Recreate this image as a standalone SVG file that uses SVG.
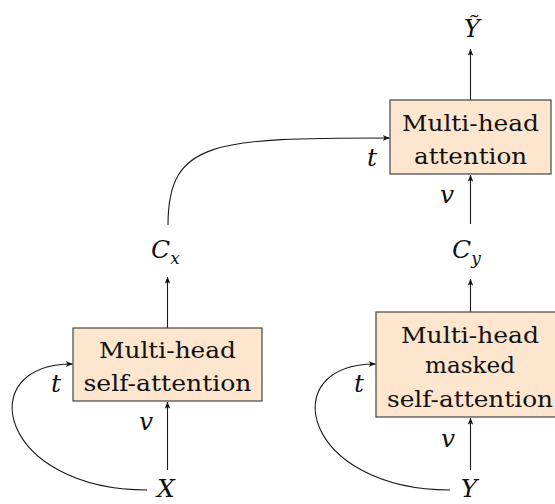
<svg xmlns="http://www.w3.org/2000/svg" width="555" height="504" viewBox="0 0 555 504">
<defs>
<marker id="arr" viewBox="0 0 10 8" refX="9.5" refY="4" markerWidth="7" markerHeight="5.6" markerUnits="userSpaceOnUse" orient="auto">
<path d="M0,0 L10,4 L0,8 L2.5,4 Z" fill="#111"/>
</marker>
<style>
.box{fill:#FDE5CE;stroke:#444;stroke-width:1.2}
.lbl{font-family:"DejaVu Serif","Liberation Serif",serif;font-size:22.5px;fill:#111;text-anchor:middle}
.math{font-family:"DejaVu Serif","Liberation Serif",serif;font-style:italic;font-size:25px;fill:#111}
.sub{font-size:17px}
.edge{fill:none;stroke:#1a1a1a;stroke-width:1.1;marker-end:url(#arr)}
</style>
</defs>
<rect width="555" height="504" fill="#fff"/>
<g id="connectors">
<path class="edge" d="M167.5,470 L167.5,402"/>
<path class="edge" d="M147,490 C0,490 -30,364 72.5,364"/>
<path class="edge" d="M167.5,328 L167.5,277"/>
<path class="edge" d="M168,225 C168,140 215,138 389.5,138"/>
<path class="edge" d="M470.5,470 L470.5,418"/>
<path class="edge" d="M450,490 C303,490 273,364 375.5,364"/>
<path class="edge" d="M470.5,312 L470.5,279"/>
<path class="edge" d="M470.5,224 L470.5,175"/>
<path class="edge" d="M470.5,100 L470.5,49"/>
</g>
<g id="node-selfattn">
<rect class="box" x="73" y="328" width="189" height="73"/>
<text class="lbl" x="167.5" y="358" textLength="137" lengthAdjust="spacingAndGlyphs">Multi-head</text>
<text class="lbl" x="167.5" y="391" textLength="168" lengthAdjust="spacingAndGlyphs">self-attention</text>
</g>
<g id="node-masked">
<rect class="box" x="376" y="312" width="188" height="105"/>
<text class="lbl" x="470" y="343" textLength="138" lengthAdjust="spacingAndGlyphs">Multi-head</text>
<text class="lbl" x="470" y="373" textLength="90" lengthAdjust="spacingAndGlyphs">masked</text>
<text class="lbl" x="470" y="407" textLength="166" lengthAdjust="spacingAndGlyphs">self-attention</text>
</g>
<g id="node-attn">
<rect class="box" x="390" y="100" width="161" height="74"/>
<text class="lbl" x="470.5" y="131" textLength="137" lengthAdjust="spacingAndGlyphs">Multi-head</text>
<text class="lbl" x="470.5" y="164" textLength="113" lengthAdjust="spacingAndGlyphs">attention</text>
</g>
<g id="node-X"><text class="math" x="166" y="497" text-anchor="middle">X</text></g>
<g id="node-Y"><text class="math" x="469" y="497" text-anchor="middle">Y</text></g>
<g id="node-Cx"><text class="math" x="151" y="258">C<tspan class="sub" dy="6">x</tspan></text></g>
<g id="node-Cy"><text class="math" x="452" y="258">C<tspan class="sub" dy="6">y</tspan></text></g>
<g id="node-Ytilde"><text class="math" x="472" y="37" text-anchor="middle" style="font-size:24px">Ỹ</text></g>
<g id="edge-labels">
<text class="math" x="51" y="392">t</text>
<text class="math" x="354" y="392">t</text>
<text class="math" x="367" y="166">t</text>
<text class="math" x="139" y="430">v</text>
<text class="math" x="441" y="447">v</text>
<text class="math" x="440" y="203">v</text>
</g>
</svg>
